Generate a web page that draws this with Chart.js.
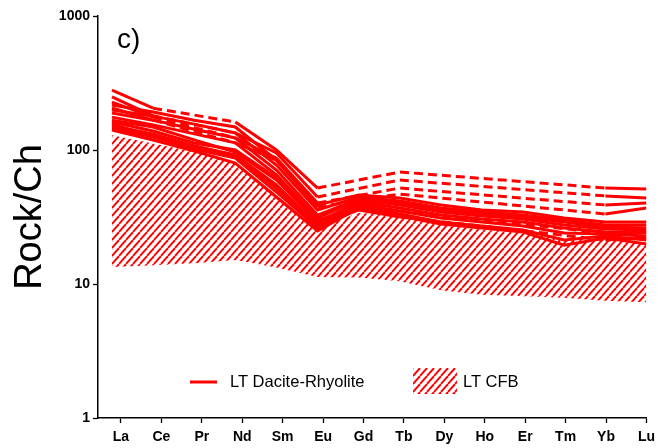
<!DOCTYPE html>
<html>
<head>
<meta charset="utf-8">
<script src="https://cdn.jsdelivr.net/npm/chart.js@4.4.1/dist/chart.umd.min.js"></script>
<style>
  html, body { margin: 0; padding: 0; background: #ffffff; }
  #wrap { position: relative; width: 661px; height: 448px; }
</style>
</head>
<body>
<div id="wrap"><canvas id="ree" width="661" height="448"></canvas></div>
<script>
// Chondrite-normalised REE patterns
const elements = ['La', 'Ce', 'Pr', 'Nd', 'Sm', 'Eu', 'Gd', 'Tb', 'Dy', 'Ho', 'Er', 'Tm', 'Yb', 'Lu'];
const yTicks = [1, 10, 100, 1000];

// LT CFB field (upper and lower envelope)
const cfbUpper = [129, 112, 97, 81, 46, 26, 34, 32, 27.5, 25.5, 24, 21.5, 22, 19.5];
const cfbLower = [13.4, 13.8, 14.3, 15.1, 13.3, 11.3, 11.2, 10.5, 9.0, 8.3, 8.1, 7.9, 7.5, 7.3];

// LT Dacite-Rhyolite samples (null = not analysed)
const dr01 = [280, 205, null, 162, 100, 52, null, 68.5, null, null, null, null, 52, 51.2];
const dr02 = [249, 180, null, 134, 95, 44.6, null, 59.7, null, null, null, null, 45.4, 43.8];
const dr03 = [228, 176, null, 123, 87, 40.2, null, 52, null, null, null, null, 38.9, 40.2];
const dr04 = [206, 167, null, 113, 84, 37.6, null, 46.9, null, null, null, null, 33.3, 36.9];
const dr05 = [217, 192, 167, 148.5, 84.2, 38.9, 46.1, 43.8, 38.9, 35.7, 34.5, 31.1, 29, 29];
const dr06 = [199, 179, 156, 134, 77.3, 35.7, 44.6, 41.6, 36.9, 34.5, 32.7, 30, 27.6, 27.6];
const dr07 = [189, 167, 143, 123, 70.9, 32.7, 43.1, 40.2, 35.7, 33.3, 31.6, 29, 26.6, 26.2];
const dr08 = [176, 154, 132, 113, 65.1, 31.1, 42.4, 38.9, 34.5, 32.2, 30.5, 27.6, 25.7, 25.3];
const dr09 = [167, 148.5, 119, 96.6, 59.7, 29, 40.9, 36.9, 32.7, 30.5, 29, 26.2, 24.4, 24];
const dr10 = [156, 127, 107, 91.8, 54.8, 27.6, 39.5, 35, 31.1, 29, 27.1, 24, 23.6, 22.8];
const dr11 = [146, 125, 101.7, 87.2, 48.6, 26.2, 38.2, 33.3, 29, 27.1, 25.3, 21.3, 22.8, 21.3];
const dr12 = [141, 118.8, 98.3, 80, 44.6, 24.9, 36.9, 32.2, 28, 26.2, 24.4, 19.5, 22, 19.9];
const dr13 = [162, 138.6, 112.8, 100, 61.8, 30, 37.6, null, null, null, null, null, 24, 24.4];
const dr14 = [151, 131.6, 107, 90.2, 52, 27.1, 35.7, 31.6, null, null, null, null, 21.3, 22];

const samples = [dr01, dr02, dr03, dr04, dr05, dr06, dr07, dr08, dr09, dr10, dr11, dr12, dr13, dr14];

const RED = '#ff0000';
const FONT = "'Liberation Sans', Arial, Helvetica, sans-serif";

// diagonal hatch used for the CFB field and its legend key
function makeHatch() {
  const w = 7, h = 8;
  const c = document.createElement('canvas');
  c.width = w; c.height = h;
  const g = c.getContext('2d');
  g.strokeStyle = RED;
  g.lineWidth = 1.9;
  for (let k = -1; k <= 1; k++) {
    g.beginPath();
    g.moveTo(k * w, h);
    g.lineTo(k * w + w, 0);
    g.stroke();
  }
  return document.getElementById('ree').getContext('2d').createPattern(c, 'repeat');
}
const hatch = makeHatch();

const toPoints = arr => arr.map((v, i) => ({ x: i, y: v }));
const gapDash = ctx => (ctx.p0.skip || ctx.p1.skip) ? [9, 5] : undefined;

const datasets = samples.map(s => ({
  label: 'LT Dacite-Rhyolite',
  data: toPoints(s),
  borderColor: RED,
  borderWidth: 3,
  pointRadius: 0,
  fill: false,
  spanGaps: true,
  tension: 0,
  order: 0,
  segment: { borderDash: gapDash }
}));

datasets.push({
  label: 'LT CFB',
  data: toPoints(cfbUpper),
  borderWidth: 0,
  borderColor: 'rgba(0,0,0,0)',
  pointRadius: 0,
  backgroundColor: hatch,
  fill: '+1',
  order: 5
});
datasets.push({
  label: 'LT CFB lower',
  data: toPoints(cfbLower),
  borderWidth: 0,
  borderColor: 'rgba(0,0,0,0)',
  pointRadius: 0,
  fill: false,
  order: 6
});

// panel letter and in-plot legend
const annotations = {
  id: 'annotations',
  afterDraw(chart) {
    const ctx = chart.ctx;
    ctx.save();
    ctx.fillStyle = '#000';
    ctx.textBaseline = 'alphabetic';
    ctx.font = '28px ' + FONT;
    ctx.fillText('c)', 117, 48);

    ctx.strokeStyle = RED;
    ctx.lineWidth = 3;
    ctx.beginPath();
    ctx.moveTo(190, 382);
    ctx.lineTo(217, 382);
    ctx.stroke();
    ctx.font = '16.5px ' + FONT;
    ctx.textBaseline = 'middle';
    ctx.fillText('LT Dacite-Rhyolite', 230, 382);

    ctx.fillStyle = hatch;
    ctx.fillRect(413, 368, 44, 26);
    ctx.fillStyle = '#000';
    ctx.fillText('LT CFB', 463, 382);
    ctx.restore();
  }
};

Chart.defaults.font.family = FONT;
Chart.defaults.color = '#000';

new Chart(document.getElementById('ree'), {
  type: 'line',
  data: { datasets },
  plugins: [annotations],
  options: {
    responsive: false,
    animation: false,
    layout: { padding: { top: 16, right: 14, bottom: 0, left: 0 } },
    plugins: { legend: { display: false }, tooltip: { enabled: false } },
    scales: {
      x: {
        type: 'linear',
        display: false,
        min: -0.34,
        max: 13
      },
      xt: {
        type: 'linear',
        axis: 'x',
        position: 'bottom',
        min: -0.568,
        max: 13,
        afterBuildTicks: axis => { axis.ticks = elements.map((_, i) => ({ value: i })); },
        afterFit: axis => { axis.height = 30; },
        ticks: {
          autoSkip: false,
          maxRotation: 0,
          padding: 6,
          font: { size: 14, weight: 'bold' },
          color: '#000',
          callback: v => elements[v]
        },
        grid: { drawOnChartArea: false, tickLength: 5, tickWidth: 1.3, tickColor: '#000' },
        border: { display: true, color: '#000', width: 1.5 }
      },
      y: {
        type: 'logarithmic',
        min: 1,
        max: 1000,
        afterBuildTicks: axis => { axis.ticks = yTicks.map(v => ({ value: v, major: true })); },
        afterFit: axis => { axis.width = 98; },
        ticks: {
          padding: 3,
          font: { size: 14, weight: 'bold' },
          color: '#000',
          callback: v => String(v)
        },
        grid: { drawOnChartArea: false, tickLength: 5, tickWidth: 1.3, tickColor: '#000' },
        border: { display: true, color: '#000', width: 1.5 },
        title: {
          display: true,
          text: 'Rock/Ch',
          color: '#000',
          font: { size: 38, lineHeight: 1 },
          padding: { top: 12, bottom: 0 }
        }
      }
    }
  }
});
</script>
</body>
</html>
